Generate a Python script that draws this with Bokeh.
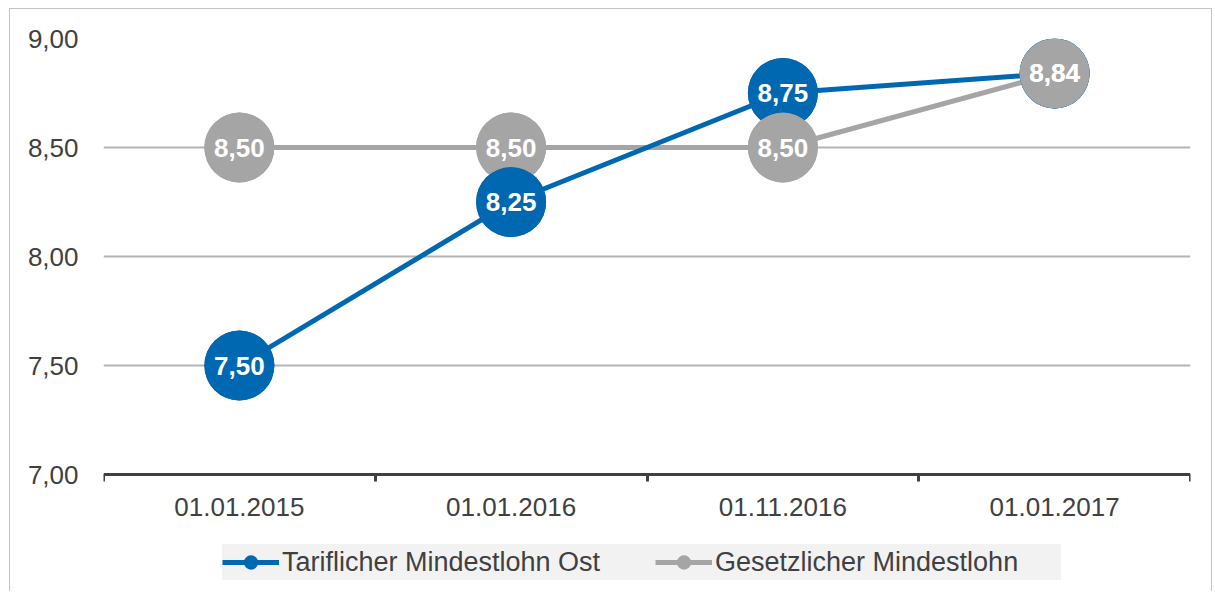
from bokeh.plotting import figure
from bokeh.models import (Range1d, FixedTicker, Legend, LegendItem, Grid, ColumnDataSource)
from bokeh.core.properties import value
from bokeh.embed import file_html
from bokeh.resources import INLINE

categories = ["01.01.2015", "01.01.2016", "01.11.2016", "01.01.2017"]
tarif_ost = [7.50, 8.25, 8.75, 8.84]
gesetzlich = [8.50, 8.50, 8.50, 8.84]
series_names = ["Tariflicher Mindestlohn Ost", "Gesetzlicher Mindestlohn"]
series_colors = ["#0067B1", "#A5A5A5"]
y_ticks = [7.0, 7.5, 8.0, 8.5, 9.0]
y_tick_labels = ["7,00", "7,50", "8,00", "8,50", "9,00"]

FONT = "Liberation Sans"
TXT = "#404040"

n = len(categories)
xpos = [i + 0.5 for i in range(n)]
bounds = list(range(n + 1))


def fmt(v):
    return f"{v:.2f}".replace(".", ",")


# geometry: value axis spans 436 px for 7..9; the frame continues below it to hold labels + legend
W, H = 1203, 583
TOP, BOTTOM, LEFT, RIGHT = 29, 2, 93, 23
AXIS_PX = 436
frame_h = H - TOP - BOTTOM
y_lo, y_hi = y_ticks[0], y_ticks[-1]
y_start = y_hi - frame_h * (y_hi - y_lo) / AXIS_PX

p = figure(width=W, height=H, x_range=Range1d(0, n), y_range=Range1d(y_start, y_hi),
           output_backend="svg", toolbar_location=None,
           min_border_left=LEFT, min_border_right=RIGHT, min_border_top=TOP, min_border_bottom=BOTTOM)
p.styles = {"border-left": "1px solid #c4c4c4", "border-top": "1px solid #c4c4c4",
            "border-right": "1px solid #c4c4c4", "margin-left": "9px", "margin-top": "8px"}
p.outline_line_color = None
p.background_fill_color = "white"
p.border_fill_color = "white"

# grids
p.xgrid.visible = False
p.ygrid.ticker = FixedTicker(ticks=y_ticks[1:-1])
p.ygrid.grid_line_color = "#b4b4b4"
p.ygrid.grid_line_width = 2
p.add_layout(Grid(dimension=1, ticker=FixedTicker(ticks=y_ticks[-1:]),
                  grid_line_color="#e4e4e4", grid_line_width=2))

# x axis (fixed at the bottom of the value scale)
xa = p.xaxis[0]
xa.fixed_location = y_lo
xa.ticker = FixedTicker(ticks=xpos, minor_ticks=bounds)
xa.major_label_overrides = {x: c for x, c in zip(xpos, categories)}
xa.axis_line_color = TXT
xa.axis_line_width = 3
xa.major_tick_line_color = None
xa.major_tick_out = 0
xa.major_tick_in = 0
xa.minor_tick_line_color = TXT
xa.minor_tick_line_width = 3
xa.minor_tick_out = 7
xa.minor_tick_in = 0
xa.major_label_standoff = 16
xa.major_label_text_font = FONT
xa.major_label_text_font_size = "26px"
xa.major_label_text_color = TXT

# y axis
ya = p.yaxis[0]
ya.ticker = FixedTicker(ticks=y_ticks)
ya.major_label_overrides = {t: l for t, l in zip(y_ticks, y_tick_labels)}
ya.axis_line_color = None
ya.major_tick_line_color = None
ya.minor_tick_line_color = None
ya.major_tick_out = 0
ya.major_tick_in = 0
ya.major_label_standoff = 25
ya.major_label_text_font = FONT
ya.major_label_text_font_size = "26px"
ya.major_label_text_color = TXT

# lines (gray below, blue above)
l_gray = p.line(xpos, gesetzlich, line_color=series_colors[1], line_width=5)
l_blue = p.line(xpos, tarif_ost, line_color=series_colors[0], line_width=5)

# per-series markers (used for legend)
s_gray = p.scatter(xpos, gesetzlich, size=70, fill_color=series_colors[1], line_color=None)
s_blue = p.scatter(xpos, tarif_ost, size=70, fill_color=series_colors[0], line_color=None)

# combined markers drawn with lower values on top
pts = [(v, series_colors[0], x) for x, v in zip(xpos, tarif_ost)] + \
      [(v, series_colors[1], x) for x, v in zip(xpos, gesetzlich)]
pts = sorted(pts, key=lambda t: -t[0])
src = ColumnDataSource(dict(x=[t[2] for t in pts], y=[t[0] for t in pts],
                            c=[t[1] for t in pts], lab=[fmt(t[0]) for t in pts]))
p.scatter("x", "y", source=src, size=70, fill_color="c", line_color=None)
p.text("x", "y", text="lab", source=src, text_color="white", text_font=value(FONT),
       text_font_style="bold", text_font_size="26px", text_align="center", text_baseline="middle")

legend = Legend(items=[LegendItem(label=series_names[0], renderers=[l_blue, s_blue]),
                       LegendItem(label=series_names[1], renderers=[l_gray, s_gray])],
                orientation="horizontal", location=(119, 10), margin=0,
                glyph_width=57, glyph_height=36, label_standoff=3, spacing=27, padding=9,
                label_width=346,
                background_fill_color="#f2f2f2", background_fill_alpha=1, border_line_color=None,
                label_text_font=FONT, label_text_font_size="27px", label_text_color=TXT)
p.add_layout(legend)

open("out.html", "w").write(file_html(p, INLINE))
